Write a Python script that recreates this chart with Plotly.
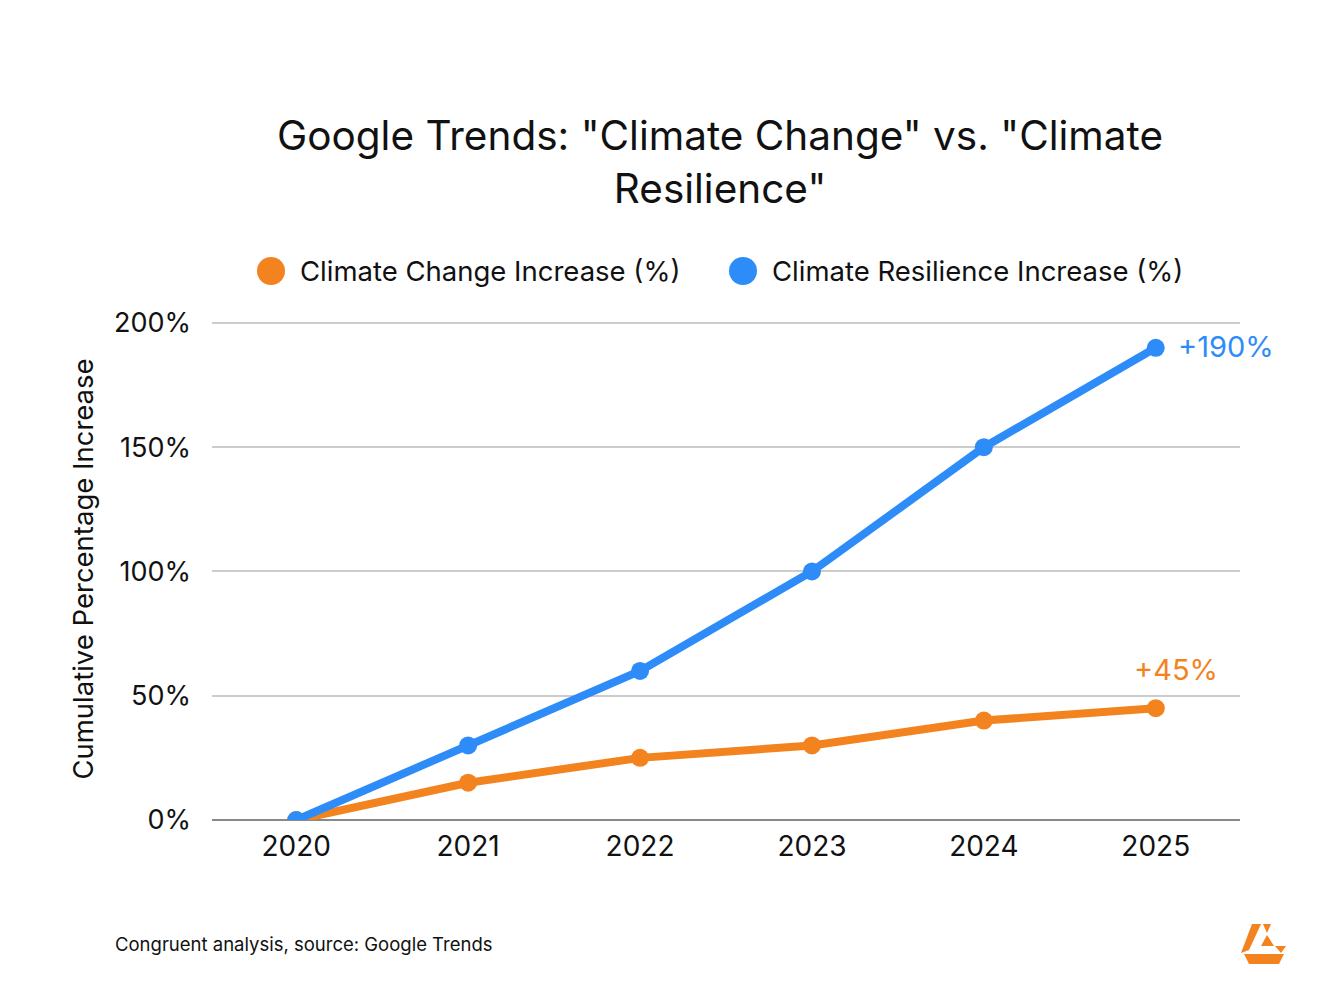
import plotly.graph_objects as go

years = ["2020", "2021", "2022", "2023", "2024", "2025"]
climate_change = [0, 15, 25, 30, 40, 45]
climate_resilience = [0, 30, 60, 100, 150, 190]
y_ticks = [0, 50, 100, 150, 200]
y_tick_labels = ["0%", "50%", "100%", "150%", "200%"]

ORANGE = "#F2831F"
BLUE = "#2D8CF8"
FONT = "Inter, Roboto, sans-serif"

# the page puts the figure 8px in from the window corner
OFF = 8
W, H = 1320 - OFF, 1000 - OFF
# a little headroom above 200% so its gridline is not clipped at the edge
Y_MAX = 202
L, R, T, B = 212 - OFF, 80, 318 - OFF, 180


def px_x(p):
    # screenshot pixel -> paper x
    return (p - OFF - L) / (W - L - R)


def px_y(p):
    # screenshot pixel -> paper y
    return (H - B - (p - OFF)) / (H - T - B)


fig = go.Figure()
fig.add_trace(go.Scatter(
    x=years, y=climate_change, mode="lines+markers", name="Climate Change Increase (%)",
    line=dict(color=ORANGE, width=8), marker=dict(color=ORANGE, size=18), showlegend=False,
))
fig.add_trace(go.Scatter(
    x=years, y=climate_resilience, mode="lines+markers", name="Climate Resilience Increase (%)",
    line=dict(color=BLUE, width=8), marker=dict(color=BLUE, size=18), showlegend=False,
))

# end labels
last = len(years) - 1
fig.add_annotation(x=last, y=climate_resilience[-1], text="+%d%%" % climate_resilience[-1],
                   showarrow=False, xanchor="left", xshift=20, yshift=1,
                   font=dict(family=FONT, size=29, color=BLUE))
fig.add_annotation(x=last, y=climate_change[-1], text="+%d%%" % climate_change[-1],
                   showarrow=False, xanchor="center", xshift=20, yshift=39,
                   font=dict(family=FONT, size=29, color=ORANGE))

# title
fig.add_annotation(x=px_x(720), y=px_y(162), xref="paper", yref="paper",
                   text='Google Trends: "Climate Change" vs. "Climate<br>Resilience"',
                   showarrow=False, xanchor="center", yanchor="middle", align="center",
                   font=dict(family=FONT, size=40.5, color="#111111"))

# legend drawn by hand so the dots keep their size
legend = [("Climate Change Increase (%)", ORANGE, 271), ("Climate Resilience Increase (%)", BLUE, 743)]
for label, color, cx in legend:
    fig.add_shape(type="circle", xref="paper", yref="paper", xsizemode="pixel", ysizemode="pixel",
                  xanchor=px_x(cx), yanchor=px_y(271), x0=-14, x1=14, y0=-14, y1=14,
                  fillcolor=color, line=dict(width=0))
    fig.add_annotation(x=px_x(cx + 27), y=px_y(271), xref="paper", yref="paper", text=label,
                       showarrow=False, xanchor="left", yanchor="middle",
                       font=dict(family=FONT, size=27.5, color="#111111"))

# footer
fig.add_annotation(x=px_x(113), y=px_y(944), xref="paper", yref="paper",
                   text="Congruent analysis, source: Google Trends", showarrow=False,
                   xanchor="left", yanchor="middle", font=dict(family=FONT, size=18.5, color="#111111"))

# logo
logo = [
    [(1252, 924), (1261, 924), (1249, 950), (1241, 953)],
    [(1263, 924), (1271, 924), (1267, 933)],
    [(1267, 935), (1274, 946), (1261, 946)],
    [(1275, 946), (1286, 946), (1281, 953)],
    [(1244, 954), (1284, 954), (1279, 964), (1249, 964)],
]
for poly in logo:
    path = "M " + " L ".join("%f,%f" % (px_x(a), px_y(b)) for a, b in poly) + " Z"
    fig.add_shape(type="path", xref="paper", yref="paper", path=path,
                  fillcolor=ORANGE, line=dict(width=0))

fig.update_layout(
    width=W, height=H, margin=dict(l=L, r=R, t=T, b=B),
    paper_bgcolor="white", plot_bgcolor="white",
    font=dict(family=FONT, color="#111111"),
)
fig.update_xaxes(
    type="category", range=[-0.49, 5.49], showgrid=False, zeroline=False,
    showline=False, tickfont=dict(size=28, color="#111111"), ticks="", ticklabelstandoff=7,
)
fig.update_yaxes(
    range=[0, Y_MAX], tickvals=y_ticks, ticktext=y_tick_labels,
    showgrid=True, gridcolor="#CCCCCC", gridwidth=1.5, zeroline=True, zerolinecolor="#888888",
    zerolinewidth=2, showline=False, ticks="", ticklabelstandoff=20,
    tickfont=dict(size=27, color="#111111"),
    title=dict(text="Cumulative Percentage Increase", font=dict(size=27.5, color="#111111"), standoff=12),
)

fig.write_html("out.html")
